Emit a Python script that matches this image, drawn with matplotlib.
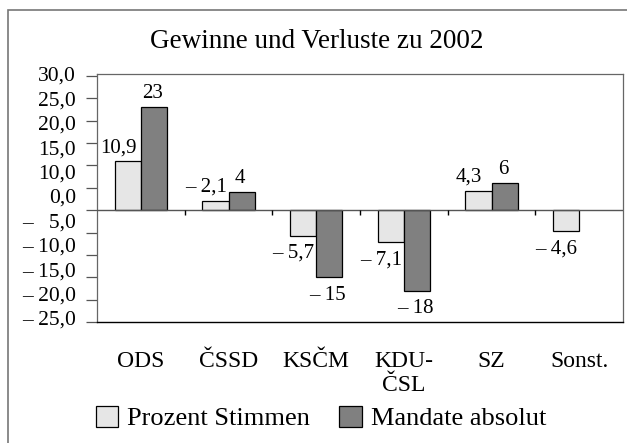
import numpy as np
import matplotlib.pyplot as plt
from matplotlib.patches import Rectangle

plt.rcParams['font.family'] = ['Liberation Serif', 'DejaVu Serif']

# Data
parteien = ["ODS", "ČSSD", "KSČM", "KDU-\nČSL", "SZ", "Sonst."]
prozent = [10.9, 2.1, -5.7, -7.1, 4.3, -4.6]
prozent_labels = ["10,9", "– 2,1", "– 5,7", "– 7,1", "4,3", "– 4,6"]
mandate = [23, 4, -15, -18, 6, np.nan]
# the original axis shows 11 labels (no 5,0) spread over 12 tick marks
y_labels = ["30,0", "25,0", "20,0", "15,0", "10,0", "0,0",
            "–   5,0", "– 10,0", "– 15,0", "– 20,0", "– 25,0"]

def fmt_label(v):
    s = str(int(abs(v)))
    return "– " + s if v < 0 else s

fig = plt.figure(figsize=(6.27, 4.43), dpi=100)
W, H = 627, 443
ax = fig.add_axes([97 / W, 1 - 322 / H, (623 - 97) / W, (322 - 74) / H])

x = np.arange(len(parteien))
w = 0.3
ax.bar(x - w / 2, prozent, w, color="#e6e6e6", edgecolor="black", linewidth=0.9,
       label="Prozent Stimmen", zorder=3)
ax.bar(x + w / 2, mandate, w, color="#808080", edgecolor="black", linewidth=0.9,
       label="Mandate absolut", zorder=3)

# value labels
for i in range(len(parteien)):
    v = prozent[i]
    if v >= 0:
        ax.annotate(prozent_labels[i], (x[i] - w / 2, v), xytext=(-7, 3),
                    textcoords="offset points", ha="center", va="bottom", fontsize=15)
    else:
        ax.annotate(prozent_labels[i], (x[i] - w / 2, v), xytext=(-7, -6),
                    textcoords="offset points", ha="center", va="top", fontsize=15)
    m = mandate[i]
    if np.isnan(m):
        continue
    if m >= 0:
        ax.annotate(fmt_label(m), (x[i] + w / 2, m), xytext=(-1, 3),
                    textcoords="offset points", ha="center", va="bottom", fontsize=15)
    else:
        ax.annotate(fmt_label(m), (x[i] + w / 2, m), xytext=(-1, -6),
                    textcoords="offset points", ha="center", va="top", fontsize=15)

ymin, ymax = -25, 30
ax.set_xlim(-0.5, len(parteien) - 0.5)
ax.set_ylim(ymin, ymax)
# tick marks every 5, labels spread evenly
ax.set_yticks(np.arange(ymin, ymax + 1, 5), minor=True)
ax.set_yticks(np.linspace(ymax + 0.45, ymin + 0.9, len(y_labels)))
ax.set_yticklabels(y_labels, fontsize=15.5)
ax.tick_params(axis="y", which="minor", direction="out", length=8, width=0.9,
               color="#555555")
ax.tick_params(axis="y", which="major", length=0, pad=15)
ax.set_xticks(x)
ax.set_xticklabels(parteien, fontsize=17, linespacing=1.15, va="top")
ax.tick_params(axis="x", length=0, pad=21)

# zero line with category separators
ax.axhline(0, color="#555555", linewidth=1.0, zorder=4)
ax.vlines(np.arange(1, len(parteien)) - 0.5, -1.1, 0, color="black", linewidth=1.0, zorder=4)

for s in ["left", "top", "right"]:
    ax.spines[s].set_color("#666666")
    ax.spines[s].set_linewidth(0.9)
ax.spines["bottom"].set_color("black")
ax.spines["bottom"].set_linewidth(1.0)

# title and outer frame
fig.text(317 / W, 1 - 42 / H, "Gewinne und Verluste zu 2002", ha="center", va="center",
         fontsize=19.5)
fig.add_artist(Rectangle((8 / W, -0.2), 1.2, 1 - 10 / H + 0.2, transform=fig.transFigure,
                         fill=False, edgecolor="#777777", linewidth=1.2))

fig.legend(loc="center", bbox_to_anchor=(321 / W, 1 - 418 / H), ncol=2, frameon=False,
           fontsize=19, handlelength=0.85, handleheight=0.85, handletextpad=0.35,
           columnspacing=1.1)

fig.savefig("out.png", dpi=100)
